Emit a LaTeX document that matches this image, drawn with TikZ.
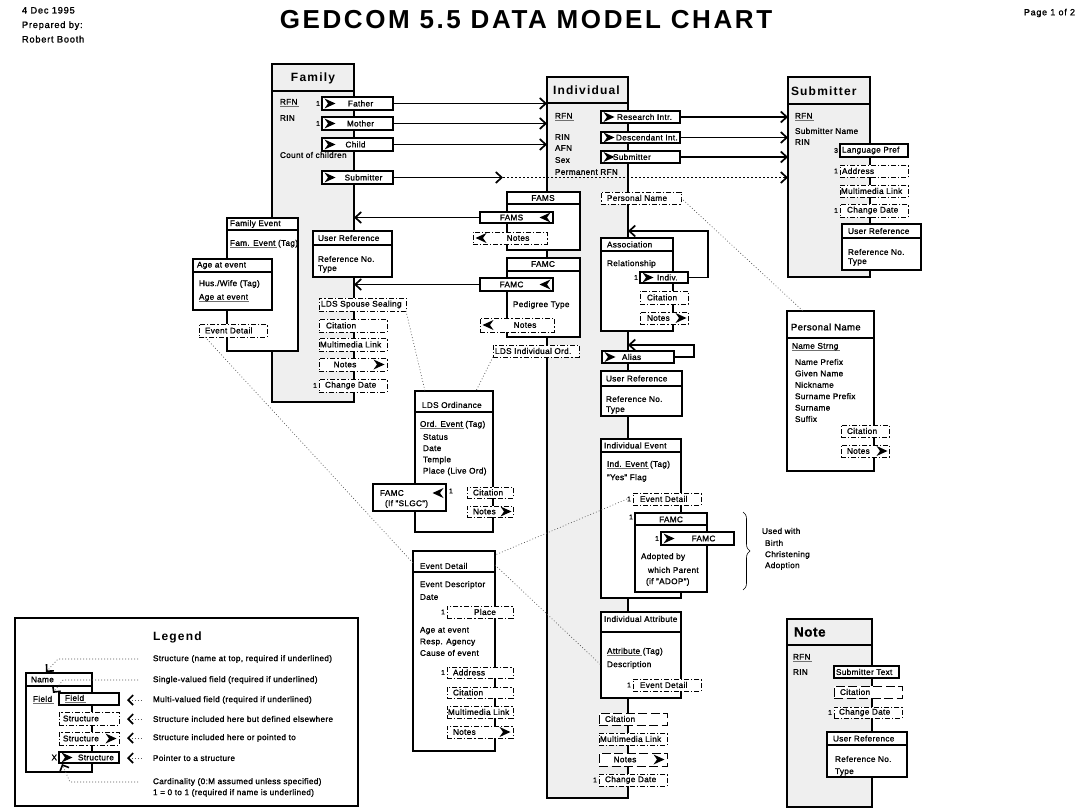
\documentclass[tikz,border=0pt]{standalone}
\usepackage{fontspec}
\setmainfont{Liberation Sans}[LetterSpace=4,FakeBold=1.2]
\newfontfamily\spaced{Liberation Sans}[LetterSpace=10]
\newfontfamily\dated{Liberation Sans}[LetterSpace=8,FakeBold=1.2]
\usetikzlibrary{arrows.meta,decorations.pathreplacing}

\definecolor{pane}{HTML}{EFEFEF}
\definecolor{rulegray}{HTML}{707070}
\definecolor{dotgray}{HTML}{555555}

\newcommand\fs{\fontsize{8.2}{10}\selectfont}
% underline drawn in grey, a little below the baseline
\newcommand\ul[1]{\setbox0\hbox{#1}\rlap{\textcolor{rulegray}{\rule[-2.3pt]{\dimexpr\wd0+1.5pt\relax}{0.8pt}}}\box0\relax}
% box from its corners: style, name, x1, y1, x2, y2
\newcommand\bx[6]{\node[#1,anchor=north west,minimum width={#5-#3},minimum height={#6-#4}] (#2) at (#3,#4) {};}
% text set from the left side of a box
\newcommand\lt[3]{\node[txt] (#1-t) at ([xshift=#2pt]#1.west) {#3};}
% text centred in a box, with a horizontal offset
\newcommand\ct[3]{\node[txt,anchor=center] (#1-t) at ([xshift=#2pt]#1.center) {#3};}
% header separator line
\newcommand\hs[3]{\draw[line width=#3pt] ([yshift=-#2pt]#1.north west) -- ([yshift=-#2pt]#1.north east);}
% header text of a structure box
\newcommand\hd[4]{\node[txt] (#1-h) at ([xshift=#2pt,yshift=-#3pt]#1.north west) {#4};}
% cardinality mark left of a box
\newcommand\one[2]{\node[txt,anchor=east,font=\fontsize{7}{8}\selectfont] (#1-n) at ([xshift=-2pt]#1.west) {#2};}

\begin{document}
\begin{tikzpicture}[x=1pt,y=-1pt,
  base/.style={inner sep=0pt,outer sep=0pt},
  big/.style={base,draw,line width=2.6pt,fill=pane},
  heavy/.style={base,draw,line width=2.4pt,fill=white},
  sub/.style={base,draw,line width=1.2pt,fill=white},
  fld/.style={base,draw,line width=1.1pt,fill=white},
  dd/.style={base,draw,line width=0.8pt,fill=white,dash pattern=on 5pt off 2pt on 1.2pt off 2pt},
  ld/.style={base,draw,line width=0.8pt,fill=white,dash pattern=on 9pt off 3.5pt},
  lgd/.style={base,draw,line width=1.2pt},
  txt/.style={base,anchor=west,font=\fs},
  ttl/.style={base,font=\spaced\bfseries\fontsize{12}{14}\selectfont},
  conn/.style={line width=1.1pt,-{Straight Barb[length=6pt,width=11pt,line width=1.7pt]}},
  dconn/.style={line width=0.9pt,dash pattern=on 1.5pt off 2.5pt,-{Straight Barb[length=6pt,width=11pt,line width=1.7pt]}},
  dotl/.style={dotgray,line width=0.7pt,dash pattern=on 0.8pt off 2.2pt},
  tipR/.style={-{Straight Barb[black,length=5pt,width=10pt,line width=1.6pt]}},
  tipL/.style={{Straight Barb[black,length=5pt,width=10pt,line width=1.6pt]}-},
  chevR/.pic={\fill (-5.5,-5) -- (5.5,0) -- (-5.5,5) -- (-2,0) -- cycle;},
  chevL/.pic={\fill (5.5,-5) -- (-5.5,0) -- (5.5,5) -- (2,0) -- cycle;},
]
\useasboundingbox (0,0) rectangle (1081,810);

% ---------------- page header
\node[txt,anchor=north west,align=left,font=\dated\fontsize{9.3}{14.5}\selectfont] (hdr) at (22,7) {4 Dec 1995\\Prepared by:\\Robert Booth};
\node[base,font=\spaced\bfseries\fontsize{26}{30}\selectfont] (title) at (526,20) {GEDCOM 5.5 DATA MODEL CHART};
\node[txt,anchor=east,font=\dated\fontsize{9}{10}\selectfont] (pg) at (1075,13) {Page 1 of 2};

% ---------------- Family
\bx{big}{fam}{272}{64}{354}{402}
\hs{fam}{27}{2.6}
\node[ttl] (fam-h) at (313,78) {Family};
\node[txt] (fam-rfn) at (280,103) {\ul{RFN}};
\node[txt] (fam-rin) at (280,118) {RIN};
\node[txt] (fam-cnt) at (280,155) {Count of children};
\bx{fld}{fa}{322}{97}{393}{110}   \pic at ([xshift=8pt]fa.west) {chevR};   \ct{fa}{3}{Father} \one{fa}{1}
\bx{fld}{mo}{322}{117}{393}{130}  \pic at ([xshift=8pt]mo.west) {chevR};   \ct{mo}{3}{Mother} \one{mo}{1}
\bx{fld}{ch}{322}{138}{393}{151}  \pic at ([xshift=8pt]ch.west) {chevR};   \ct{ch}{-2}{Child}
\bx{fld}{fsub}{322}{171}{393}{184} \pic at ([xshift=8pt]fsub.west) {chevR}; \ct{fsub}{6}{Submitter}

\bx{sub}{fev}{227}{218}{298}{351} \hs{fev}{12}{1.2} \hd{fev}{3}{6}{Family Event}
\node[txt] (fev-tag) at (230,244) {\ul{Fam. Event} (Tag)};
\bx{sub}{age}{193}{259}{272}{310} \hs{age}{13}{1.2} \hd{age}{4}{6.5}{Age at event}
\node[txt] (age-hw) at (199,284) {Hus./Wife (Tag)};
\node[txt] (age-ae) at (199,298) {\ul{Age at event}};
\bx{dd}{fed}{199}{324}{267}{337} \lt{fed}{6}{Event Detail}

\bx{sub}{fur}{313}{231}{392}{277} \hs{fur}{14}{1.2} \hd{fur}{5}{7}{User Reference}
\node[txt] (fur-no) at (318,259) {Reference No.};
\node[txt] (fur-ty) at (318,269) {Type};

\bx{dd}{lss}{319}{298}{406}{311} \lt{lss}{2}{LDS Spouse Sealing}
\bx{dd}{fcit}{319}{319}{387}{332} \lt{fcit}{7}{Citation}
\bx{dd}{fmm}{319}{338}{387}{351} \lt{fmm}{1}{Multimedia Link}
\bx{dd}{fnot}{319}{358}{387}{371} \ct{fnot}{-8}{Notes} \pic at ([xshift=-8pt]fnot.east) {chevR};
\bx{dd}{fcd}{319}{379}{387}{392} \lt{fcd}{6}{Change Date} \one{fcd}{1}

% ---------------- Individual
\bx{big}{ind}{547}{77}{628}{798}
\hs{ind}{26}{2.6}
\node[ttl,anchor=west] (ind-h) at (553,90) {Individual};
\node[txt] (ind-rfn) at (555,117) {\ul{RFN}};
\node[txt] (ind-rin) at (555,137) {RIN};
\node[txt] (ind-afn) at (555,148) {AFN};
\node[txt] (ind-sex) at (555,160) {Sex};
\node[txt] (ind-prf) at (555,172) {Permanent RFN};
\bx{fld}{rint}{601}{111}{680}{123} \pic at ([xshift=8pt]rint.west) {chevR}; \lt{rint}{16}{Research Intr.}
\bx{fld}{dint}{601}{132}{680}{143} \pic at ([xshift=8pt]dint.west) {chevR}; \lt{dint}{15}{Descendant Int.}
\bx{fld}{isub}{601}{151}{680}{163} \pic at ([xshift=8pt]isub.west) {chevR}; \lt{isub}{12}{Submitter}
\bx{dd}{ipn}{601}{192}{681}{204} \lt{ipn}{6}{Personal Name}

\bx{sub}{fams}{507}{192}{580}{250} \hs{fams}{12}{1.2}
\node[txt,anchor=center] (fams-h) at (543,198) {FAMS};
\bx{fld}{fsp}{480}{212}{553}{223} \ct{fsp}{-5}{FAMS} \pic at ([xshift=-8pt]fsp.east) {chevL};
\bx{dd}{fsn}{473}{232}{547}{244} \ct{fsn}{8}{Notes} \pic at ([xshift=8pt]fsn.west) {chevL};

\bx{sub}{famc}{507}{258}{580}{337} \hs{famc}{13}{1.2}
\node[txt,anchor=center] (famc-h) at (543,264) {FAMC};
\bx{fld}{fcp}{480}{278}{553}{291} \ct{fcp}{-5}{FAMC} \pic at ([xshift=-8pt]fcp.east) {chevL};
\node[txt] (famc-ped) at (513,305) {Pedigree Type};
\bx{dd}{fcn}{480}{318}{554}{332} \ct{fcn}{8}{Notes} \pic at ([xshift=8pt]fcn.west) {chevL};
\bx{dd}{lio}{493}{345}{579}{357} \lt{lio}{2}{LDS Individual Ord.}

\bx{sub}{asc}{601}{238}{673}{331} \hs{asc}{13}{1.2} \hd{asc}{6}{6.5}{Association}
\node[txt] (asc-rel) at (607,264) {Relationship};
\bx{fld}{aind}{640}{272}{688}{283} \pic at ([xshift=8pt]aind.west) {chevR}; \lt{aind}{17}{Indiv.} \one{aind}{1}
\bx{dd}{acit}{640}{291}{688}{304} \lt{acit}{7}{Citation}
\bx{dd}{anot}{640}{312}{688}{324} \lt{anot}{7}{Notes} \pic at ([xshift=-7pt]anot.east) {chevR};

\bx{fld}{ali}{602}{351}{674}{363} \pic at ([xshift=8pt]ali.west) {chevR}; \lt{ali}{20}{Alias}

\bx{sub}{iur}{601}{371}{682}{416} \hs{iur}{15}{1.2} \hd{iur}{5}{7.5}{User Reference}
\node[txt] (iur-no) at (606,399) {Reference No.};
\node[txt] (iur-ty) at (606,410) {Type};

\bx{sub}{iev}{601}{439}{681}{598} \hs{iev}{13}{1.2} \hd{iev}{3}{6.5}{Individual Event}
\node[txt] (iev-tag) at (607,465) {\ul{Ind. Event} (Tag)};
\node[txt] (iev-yes) at (607,478) {"Yes" Flag};
\bx{dd}{ied}{633}{493}{701}{505} \lt{ied}{7}{Event Detail} \one{ied}{1}
\bx{sub}{ifc}{635}{513}{707}{592} \hs{ifc}{12}{1.2}
\node[txt,anchor=east,font=\fontsize{7}{8}\selectfont] (ifc-n) at ([xshift=-2pt,yshift=-4pt]ifc.north west) {1};
\node[txt,anchor=center] (ifc-h) at (671,519.5) {FAMC};
\bx{fld}{ifcp}{661}{532}{734}{545} \pic at ([xshift=8pt]ifcp.west) {chevR}; \ct{ifcp}{6}{FAMC} \one{ifcp}{1}
\node[txt] (ifc-a) at (641,557) {Adopted by};
\node[txt] (ifc-b) at (648,570) {which Parent};
\node[txt] (ifc-c) at (646,582) {(if "ADOP")};
\coordinate (brT) at (743,512);
\coordinate (brB) at (743,590);
\draw[line width=0.6pt,decorate,decoration={brace,amplitude=7pt}] (brT) -- (brB);
\node[txt] (uw) at (762,531) {Used with};
\node[txt] (uw-b) at (765,543) {Birth};
\node[txt] (uw-c) at (765,555) {Christening};
\node[txt] (uw-a) at (765,566) {Adoption};

\bx{sub}{iat}{601}{612}{681}{698} \hs{iat}{20}{1.2} \hd{iat}{3}{7}{Individual Attribute}
\node[txt] (iat-tag) at (607,652) {\ul{Attribute} (Tag)};
\node[txt] (iat-des) at (607,665) {Description};
\bx{dd}{iaed}{633}{679}{701}{691} \lt{iaed}{7}{Event Detail} \one{iaed}{1}

\bx{ld}{icit}{599}{713}{667}{725} \lt{icit}{6}{Citation}
\bx{dd}{imm}{599}{733}{667}{745} \lt{imm}{1}{Multimedia Link}
\bx{ld}{inot}{599}{753}{667}{766} \ct{inot}{-8}{Notes} \pic at ([xshift=-8pt]inot.east) {chevR};
\bx{dd}{icd}{599}{774}{667}{786} \lt{icd}{6}{Change Date} \one{icd}{1}

% ---------------- Submitter
\bx{big}{subm}{788}{77}{870}{277}
\hs{subm}{27}{2.6}
\node[ttl,anchor=west] (subm-h) at (791,91) {Submitter};
\node[txt] (subm-rfn) at (795,117) {\ul{RFN}};
\node[txt] (subm-nm) at (795,131) {Submitter Name};
\node[txt] (subm-rin) at (795,142) {RIN};
\bx{fld}{slp}{840}{144}{908}{157} \lt{slp}{2}{Language Pref} \one{slp}{3}
\bx{dd}{sad}{840}{165}{908}{177} \lt{sad}{2}{Address} \one{sad}{1}
\bx{dd}{smm}{840}{185}{908}{197} \lt{smm}{1}{Multimedia Link}
\bx{dd}{scd}{840}{204}{908}{217} \lt{scd}{7}{Change Date} \one{scd}{1}
\bx{sub}{sur}{842}{224}{921}{270} \hs{sur}{14}{1.2} \hd{sur}{6}{7}{User Reference}
\node[txt] (sur-no) at (848,252) {Reference No.};
\node[txt] (sur-ty) at (848,262) {Type};

% ---------------- Personal Name
\bx{heavy}{pn}{787}{311}{874}{471}
\hs{pn}{27}{2.4}
\node[txt,anchor=west,font=\fontsize{9.5}{11}\selectfont] (pn-h) at (791,327) {Personal Name};
\node[txt] (pn-str) at (792,347) {\ul{Name Strng}};
\node[txt,anchor=north west,align=left,font=\fontsize{8.2}{11.4}\selectfont] (pn-f) at (795,359) {Name Prefix\\Given Name\\Nickname\\Surname Prefix\\Surname\\Suffix};
\bx{dd}{pcit}{841}{425}{889}{437} \lt{pcit}{6}{Citation}
\bx{dd}{pnot}{841}{445}{889}{457} \lt{pnot}{6}{Notes} \pic at ([xshift=-7pt]pnot.east) {chevR};

% ---------------- Note
\bx{big}{note}{787}{619}{872}{807}
\hs{note}{26}{2.6}
\node[base,anchor=west,font=\bfseries\fontsize{13.5}{15}\selectfont] (note-h) at (794,632) {Note};
\node[txt] (note-rfn) at (793,658) {\ul{RFN}};
\node[txt] (note-rin) at (793,672) {RIN};
\bx{fld}{ntx}{834}{666}{899}{678} \lt{ntx}{2}{Submitter Text}
\bx{ld}{ncit}{834}{686}{902}{698} \lt{ncit}{6}{Citation}
\bx{dd}{ncd}{834}{707}{902}{718} \lt{ncd}{5}{Change Date} \one{ncd}{1}
\bx{sub}{nur}{827}{732}{907}{777} \hs{nur}{13}{1.2} \hd{nur}{6}{6.5}{User Reference}
\node[txt] (nur-no) at (835,759) {Reference No.};
\node[txt] (nur-ty) at (835,772) {Type};

% ---------------- LDS Ordinance
\bx{heavy}{lds}{415}{391}{493}{532}
\hs{lds}{21}{2.4}
\node[txt] (lds-h) at (422,405) {LDS Ordinance};
\node[txt] (lds-ev) at (420,425) {\ul{Ord. Event} (Tag)};
\node[txt,anchor=north west,align=left,font=\fontsize{8.2}{11.3}\selectfont] (lds-f) at (423,434) {Status\\Date\\Temple\\Place (Live Ord)};
\bx{sub}{lfc}{373}{484}{446}{511}
\node[txt] (lfc-a) at (380,493) {FAMC};
\node[txt] (lfc-b) at (385,504) {(If "SLGC")};
\pic at ([xshift=-8pt,yshift=4.5pt]lfc.east) {chevL};
\node[txt,font=\fontsize{7}{8}\selectfont] (lfc-n) at (449,491) {1};
\bx{dd}{lcit}{467}{487}{513}{498} \lt{lcit}{6}{Citation}
\bx{dd}{lnot}{467}{506}{513}{517} \lt{lnot}{6}{Notes} \pic at ([xshift=-7pt]lnot.east) {chevR};

% ---------------- Event Detail
\bx{heavy}{ed}{413}{551}{495}{751}
\hs{ed}{21}{2.4}
\node[txt] (ed-h) at (420,566) {Event Detail};
\node[txt] (ed-d) at (420,585) {Event Descriptor};
\node[txt] (ed-dt) at (420,597) {Date};
\bx{dd}{epl}{447}{606}{513}{618} \ct{epl}{5}{Place} \one{epl}{1}
\node[txt,anchor=north west,align=left,font=\fontsize{8.2}{11.6}\selectfont] (ed-f) at (420,627) {Age at event\\Resp. Agency\\Cause of event};
\bx{dd}{ead}{447}{667}{513}{678} \lt{ead}{6}{Address} \one{ead}{1}
\bx{dd}{ecit}{447}{687}{513}{698} \lt{ecit}{6}{Citation}
\bx{dd}{emm}{447}{706}{513}{718} \lt{emm}{1}{Multimedia Link}
\bx{dd}{enot}{447}{726}{513}{738} \lt{enot}{6}{Notes} \pic at ([xshift=-8pt]enot.east) {chevR};

% ---------------- connectors
\draw[conn] (fa.east) -- (ind.west |- fa.east);
\draw[conn] (mo.east) -- (ind.west |- mo.east);
\draw[conn] (ch.east) -- (ind.west |- ch.east);
\coordinate (hop) at (503,177.5);
\draw[conn] (fsub.east) -- (hop);
\draw[dconn] (hop) -- (subm.west |- hop);
\draw[conn] (rint.east) -- (subm.west |- rint.east);
\draw[conn] (dint.east) -- (subm.west |- dint.east);
\draw[conn] (isub.east) -- (subm.west |- isub.east);
\draw[conn] (fsp.west) -- (fam.east |- fsp.west);
\draw[conn] (fcp.west) -- (fam.east |- fcp.west);
\coordinate (aloop) at (708,231);
\draw[conn] (aind.east) -| (aloop) -- (ind.east |- aloop);
\coordinate (alloop) at (694,345);
\draw[conn] (ali.east) -| (alloop) -- (ind.east |- alloop);

% dotted references between structures
\draw[dotl] (ipn.east) -- ([xshift=16pt]pn.north west);
\draw[dotl] ([xshift=6pt]fed.south west) -- ([yshift=-12pt]ed.north west);
\draw[dotl] (lss.south east) -- ([xshift=10pt]lds.north west);
\draw[dotl] (lio.south west) -- ([xshift=-17pt]lds.north east);
\draw[dotl] ([xshift=-6pt]ied.west) -- ([yshift=-4pt]ed.north east);
\draw[dotl] ([yshift=-14pt]ed.north east) -- ([yshift=-53pt]iat.north west);

% ---------------- Legend
\bx{lgd}{leg}{15}{618}{358}{806}
\node[base,anchor=west,font=\spaced\bfseries\fontsize{12}{14}\selectfont] (leg-h) at (153,637) {Legend};
\bx{sub}{lnm}{26}{673}{92}{772} \hs{lnm}{13}{1.2} \hd{lnm}{5}{6.5}{Name}
\node[txt] (lnm-f) at (33,700) {\ul{Field}};
\bx{fld}{lf}{59}{693}{119}{705} \lt{lf}{6}{\ul{Field}}
\bx{dd}{ls1}{59}{712}{119}{725} \lt{ls1}{4}{Structure}
\bx{dd}{ls2}{59}{732}{119}{745} \lt{ls2}{4}{Structure} \pic at ([xshift=-8pt]ls2.east) {chevR};
\bx{fld}{ls3}{59}{752}{119}{763} \pic at ([xshift=8pt]ls3.west) {chevR}; \lt{ls3}{19}{Structure}
\node[txt,anchor=east] (ls3-n) at ([xshift=-2pt]ls3.west) {X};
\node[txt] (lg1) at (153,659) {Structure (name at top, required if underlined)};
\node[txt] (lg2) at (153,680) {Single-valued field (required if underlined)};
\node[txt] (lg3) at (153,700) {Multi-valued field (required if underlined)};
\node[txt] (lg4) at (153,719) {Structure included here but defined elsewhere};
\node[txt] (lg5) at (153,738) {Structure included here or pointed to};
\node[txt] (lg6) at (153,758) {Pointer to a structure};
\node[txt] (lg7) at (153,782) {Cardinality (0:M assumed unless specified)};
\node[txt] (lg8) at (153,793) {1 = 0 to 1 (required if name is underlined)};
\coordinate (lb1) at (58,659);  \coordinate (lc1) at (46,672);
\coordinate (lb2) at (63,680);  \coordinate (lc2) at (53,693);
\coordinate (lb7) at (70,782);  \coordinate (lc7) at (62,764);
\draw[dotl,tipR] ([xshift=-15pt]lg1.west) -- (lb1) -- (lc1);
\draw[dotl,tipR] ([xshift=-15pt]lg2.west) -- (lb2) -- (lc2);
\draw[dotl,tipL] ([xshift=-26pt]lg3.west) -- ([xshift=-10pt]lg3.west);
\draw[dotl,tipL] ([xshift=-26pt]lg4.west) -- ([xshift=-10pt]lg4.west);
\draw[dotl,tipL] ([xshift=-26pt]lg5.west) -- ([xshift=-10pt]lg5.west);
\draw[dotl,tipL] ([xshift=-26pt]lg6.west) -- ([xshift=-10pt]lg6.west);
\draw[dotl,tipR] ([xshift=-15pt]lg7.west) -- (lb7) -- (lc7);
\end{tikzpicture}
\end{document}
